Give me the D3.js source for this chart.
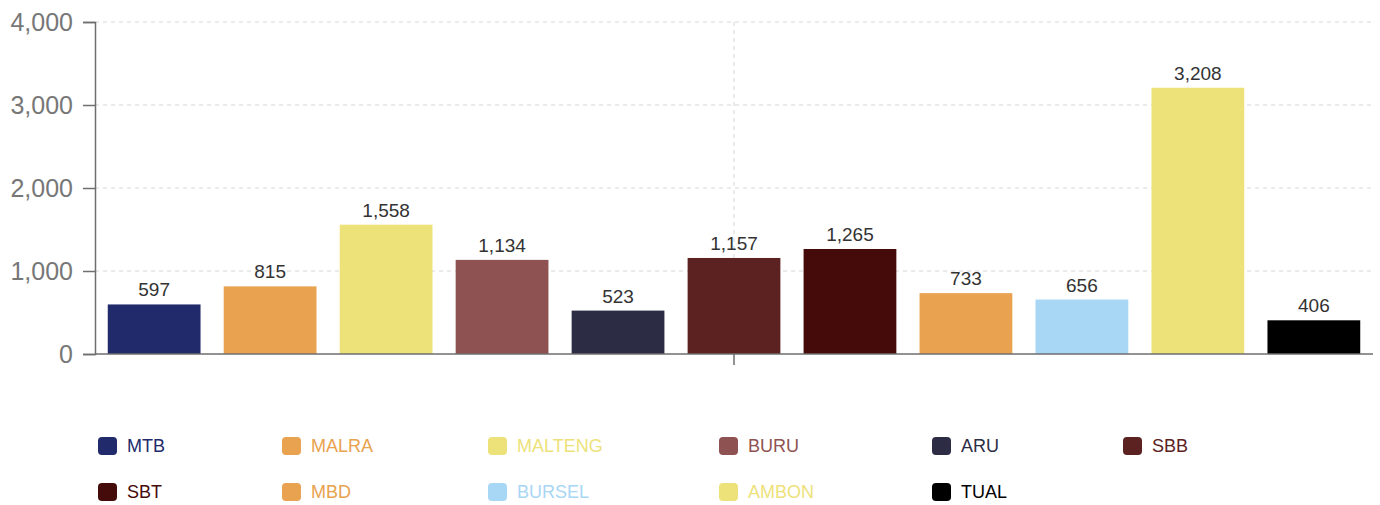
<!DOCTYPE html>
<html>
<head>
<meta charset="utf-8">
<script src="https://cdn.jsdelivr.net/npm/d3@7"></script>
<style>
  body { margin: 0; background: #fff; }
  svg { font-family: "Liberation Sans", Arial, sans-serif; }
</style>
</head>
<body>
<svg id="chart" width="1380" height="505"></svg>
<script>
// data
var regions = ["MTB", "MALRA", "MALTENG", "BURU", "ARU", "SBB", "SBT", "MBD", "BURSEL", "AMBON", "TUAL"];
var totals = [597, 815, 1558, 1134, 523, 1157, 1265, 733, 656, 3208, 406];
var colors = ["#212a6a", "#e9a24f", "#ede27a", "#8f5252", "#2c2d45", "#5c2222", "#450a0a", "#e9a24f", "#a8d6f5", "#ede27a", "#000000"];
var yTicks = [0, 1000, 2000, 3000, 4000];

var svg = d3.select("#chart");
// plot area (note: "top" is taken by window.top)
var plotLeft = 95, plotRight = 1373, plotTop = 22, plotBottom = 354;

var y = d3.scaleLinear().domain([0, 4000]).range([plotBottom, plotTop]);
var x = d3.scaleBand().domain(regions).range([plotLeft, plotRight]).paddingInner(0.2).paddingOuter(0.11);

// grid lines
svg.append("g").selectAll("line")
  .data(yTicks.slice(1))
  .enter().append("line")
  .attr("x1", plotLeft).attr("x2", plotRight)
  .attr("y1", d => y(d)).attr("y2", d => y(d))
  .attr("stroke", "#d6d6d6").attr("stroke-dasharray", "4,4");

var mid = (plotLeft + plotRight) / 2;
svg.append("line")
  .attr("x1", mid).attr("x2", mid).attr("y1", plotTop).attr("y2", plotBottom)
  .attr("stroke", "#d6d6d6").attr("stroke-dasharray", "4,4");

// bars
svg.append("g").selectAll("rect")
  .data(totals)
  .enter().append("rect")
  .attr("x", (d, i) => x(regions[i]))
  .attr("width", x.bandwidth())
  .attr("y", d => y(d))
  .attr("height", d => plotBottom - y(d))
  .attr("fill", (d, i) => colors[i]);

// value labels
svg.append("g").selectAll("text")
  .data(totals)
  .enter().append("text")
  .attr("x", (d, i) => x(regions[i]) + x.bandwidth() / 2)
  .attr("y", d => y(d) - 8)
  .attr("text-anchor", "middle")
  .attr("font-size", 19)
  .attr("fill", "#333")
  .text(d => d3.format(",")(d));

// y axis
var yAxis = d3.axisLeft(y).tickValues(yTicks).tickSize(12).tickPadding(10).tickFormat(d3.format(","));
var gy = svg.append("g").attr("transform", "translate(" + plotLeft + ",0)").call(yAxis);
gy.select(".domain").attr("stroke", "#6e6e6e").attr("stroke-width", 1.5);
gy.selectAll(".tick line").attr("stroke", "#6e6e6e").attr("stroke-width", 1.5);
gy.selectAll(".tick text").attr("font-size", 25).attr("fill", "#777")
  .attr("font-family", "Liberation Sans, Arial, sans-serif");

// x axis (single category)
svg.append("line")
  .attr("x1", plotLeft).attr("x2", plotRight).attr("y1", plotBottom).attr("y2", plotBottom)
  .attr("stroke", "#6e6e6e").attr("stroke-width", 1.5);
svg.append("line")
  .attr("x1", mid).attr("x2", mid).attr("y1", plotBottom).attr("y2", plotBottom + 11)
  .attr("stroke", "#6e6e6e").attr("stroke-width", 1.5);

// legend
var legendColX = [98, 282, 488, 719, 932, 1123];
var legendRowY = [446, 492];
var legend = svg.append("g").selectAll("g")
  .data(regions)
  .enter().append("g")
  .attr("transform", (d, i) => "translate(" + legendColX[i % 6] + "," + legendRowY[Math.floor(i / 6)] + ")");

legend.append("rect")
  .attr("x", 0).attr("y", -9).attr("width", 19).attr("height", 18)
  .attr("rx", 4)
  .attr("fill", (d, i) => colors[i]);

legend.append("text")
  .attr("x", 29).attr("y", 6)
  .attr("font-size", 18)
  .attr("fill", (d, i) => colors[i])
  .text(d => d);
</script>
</body>
</html>
